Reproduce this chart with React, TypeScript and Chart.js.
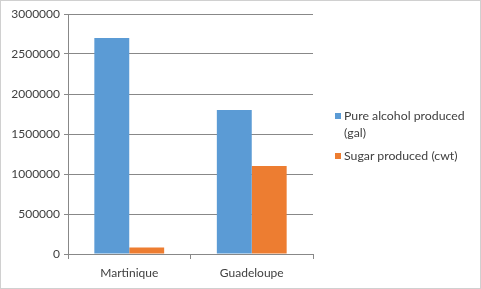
import React, { useEffect, useRef } from "react";
import { Chart, registerables } from "chart.js";

Chart.register(...registerables);

const categories = ["Martinique", "Guadeloupe"];
const alcoholLabel = "Pure alcohol produced (gal)";
const alcoholLines = ["Pure alcohol produced", "(gal)"];
const alcoholValues = [2700000, 1800000];
const sugarLabel = "Sugar produced (cwt)";
const sugarValues = [80000, 1100000];
const yMax = 3000000;
const yStep = 500000;

const BLUE = "#5B9BD5";
const ORANGE = "#ED7D31";
const FONT = "Lato, 'Open Sans', sans-serif";

export default function App() {
  const ref = useRef<HTMLCanvasElement | null>(null);

  useEffect(() => {
    if (!ref.current) return;
    const chart = new Chart(ref.current, {
      type: "bar",
      data: {
        labels: categories,
        datasets: [
          { label: alcoholLabel, data: alcoholValues, backgroundColor: BLUE, borderWidth: 0 },
          { label: sugarLabel, data: sugarValues, backgroundColor: ORANGE, borderWidth: 0 },
        ],
      },
      options: {
        animation: false,
        responsive: false,
        maintainAspectRatio: false,
        layout: { padding: { left: 0, right: 168, top: 14, bottom: 0 } },
        plugins: { legend: { display: false }, tooltip: { enabled: false } },
        datasets: { bar: { categoryPercentage: 0.57, barPercentage: 1 } },
        scales: {
          x: {
            offset: true,
            grid: {
              display: true,
              offset: true,
              drawOnChartArea: false,
              drawTicks: true,
              tickLength: 5,
              color: "#888888",
            },
            border: { display: true, color: "#888888" },
            ticks: { color: "#404040", font: { family: FONT, size: 12 }, padding: 7 },
            afterFit: (s: any) => { s.height = 35; },
          },
          y: {
            min: 0,
            max: yMax,
            ticks: {
              stepSize: yStep,
              color: "#404040",
              font: { family: FONT, size: 12 },
              padding: 4,
              callback: (v: any) => String(v),
            },
            grid: { color: "#888888", tickLength: 4 },
            border: { display: true, color: "#888888" },
            afterFit: (s: any) => { s.width = 68; },
          },
        },
      },
    });
    return () => chart.destroy();
  }, []);

  const legendText: React.CSSProperties = {
    position: "absolute",
    left: 344,
    fontFamily: FONT,
    fontSize: 12.3,
    color: "#404040",
    lineHeight: "17px",
    whiteSpace: "nowrap",
  };

  return (
    <div style={{ position: "fixed", left: 0, top: 0, width: 481, height: 289, background: "#fff" }}>
      <canvas ref={ref} width={481} height={289} style={{ position: "absolute", left: 0, top: 0 }} />
      <div style={{ position: "absolute", left: 335, top: 113, width: 6, height: 6, background: BLUE }} />
      <div style={{ ...legendText, top: 107 }}>
        {alcoholLines.map((l, i) => (
          <div key={i}>{l}</div>
        ))}
      </div>
      <div style={{ position: "absolute", left: 335, top: 153, width: 6, height: 6, background: ORANGE }} />
      <div style={{ ...legendText, top: 147 }}>{sugarLabel}</div>
      <div
        style={{
          position: "absolute",
          left: 0,
          top: 0,
          width: 481,
          height: 289,
          boxSizing: "border-box",
          border: "1px solid #d0d0d0",
          pointerEvents: "none",
        }}
      />
    </div>
  );
}
